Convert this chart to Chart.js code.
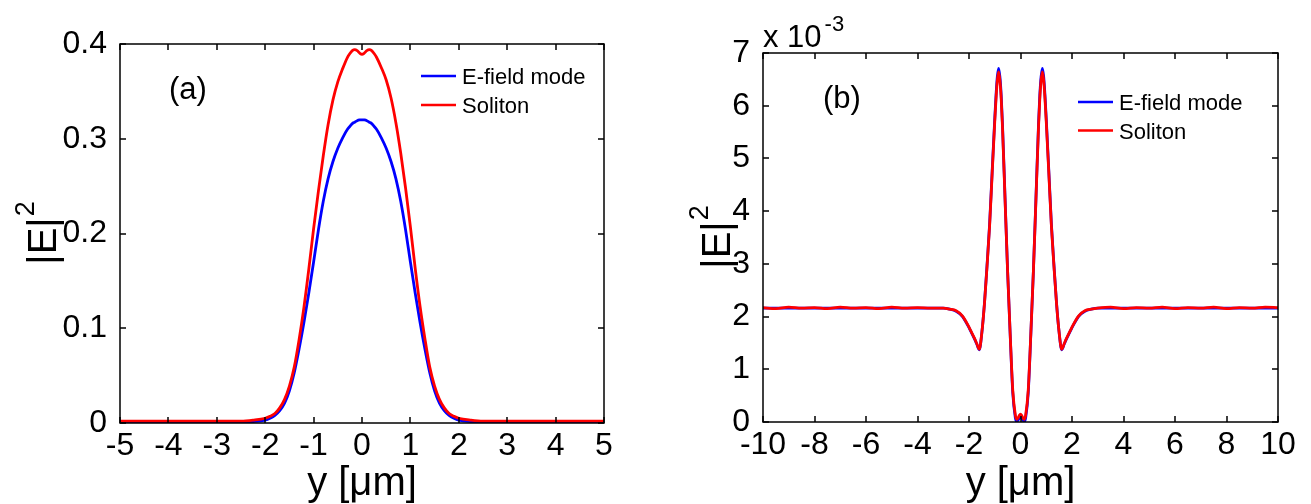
<!DOCTYPE html>
<html>
<head>
<meta charset="utf-8">
<script src="https://cdn.jsdelivr.net/npm/chart.js@4.4.1/dist/chart.umd.min.js"></script>
<style>
  body { margin: 0; background: #fff; }
  .figure { position: relative; width: 1311px; height: 504px; overflow: hidden; }
  .panel { position: absolute; top: 0; }
</style>
</head>
<body>
<div class="figure">
  <div class="panel" style="left:0"><canvas id="chartA" width="650" height="504"></canvas></div>
  <div class="panel" style="left:650px"><canvas id="chartB" width="661" height="504"></canvas></div>
</div>
<script>
// (a) transverse position y [um] and |E|^2
const posA = [
  -5, -4.5, -4, -3.5, -3, -2.5, -2.25,
  -2, -1.9, -1.8, -1.7, -1.6, -1.5, -1.4, -1.3, -1.2, -1.1, -1, -0.9, -0.8, -0.7, -0.6, -0.5, -0.4, -0.3,
  -0.25, -0.2, -0.15, -0.1, -0.05, 0, 0.05, 0.1, 0.15, 0.2, 0.25,
  0.3, 0.4, 0.5, 0.6, 0.7, 0.8, 0.9, 1, 1.1, 1.2, 1.3, 1.4, 1.5, 1.6, 1.7, 1.8, 1.9, 2,
  2.25, 2.5, 3, 3.5, 4, 4.5, 5
]
const fieldA = [
  0.0005, 0.0005, 0.0005, 0.0005, 0.0006, 0.001, 0.0015,
  0.003, 0.005, 0.008, 0.013, 0.021, 0.034, 0.053, 0.078, 0.106, 0.137, 0.17, 0.204, 0.234, 0.258, 0.276, 0.29, 0.301, 0.31,
  0.313, 0.316, 0.3175, 0.319, 0.3198, 0.32, 0.3198, 0.319, 0.3175, 0.316, 0.313,
  0.31, 0.301, 0.29, 0.276, 0.258, 0.234, 0.204, 0.17, 0.137, 0.106, 0.078, 0.053, 0.034, 0.021, 0.013, 0.008, 0.005, 0.003,
  0.0015, 0.001, 0.0006, 0.0005, 0.0005, 0.0005, 0.0005
]
const solitonA = [
  0.002, 0.002, 0.002, 0.002, 0.002, 0.002, 0.003,
  0.005, 0.007, 0.01, 0.016, 0.025, 0.039, 0.059, 0.088, 0.122, 0.162, 0.205, 0.245, 0.282, 0.315, 0.341, 0.36, 0.374, 0.386,
  0.39, 0.393, 0.394, 0.393, 0.3905, 0.389, 0.3905, 0.393, 0.394, 0.393, 0.39,
  0.386, 0.375, 0.362, 0.343, 0.317, 0.285, 0.248, 0.207, 0.163, 0.123, 0.089, 0.059, 0.039, 0.025, 0.016, 0.01, 0.007, 0.005,
  0.003, 0.002, 0.002, 0.002, 0.002, 0.002, 0.002
]
const ticksXA = [-5, 5, 1]
const ticksYA = [0, 0.4, 0.1]

// (b) |E|^2 in units of 1e-3
const posB = [
  -10, -9.5, -9, -8.5, -8, -7.5, -7, -6.5, -6, -5.5, -5, -4.5, -4, -3.5, -3,
  -2.75, -2.5, -2.25, -2, -1.9, -1.8, -1.7, -1.6, -1.5, -1.4, -1.3, -1.2, -1.1,
  -1, -0.95, -0.9, -0.85, -0.8, -0.75, -0.7, -0.6, -0.5, -0.4, -0.3, -0.2, -0.15, -0.1, -0.05,
  0,
  0.05, 0.1, 0.15, 0.2, 0.3, 0.4, 0.5, 0.6, 0.7, 0.75, 0.8, 0.85, 0.9, 0.95, 1,
  1.1, 1.2, 1.3, 1.4, 1.5, 1.6, 1.7, 1.8, 1.9, 2, 2.25, 2.5, 2.75,
  3, 3.5, 4, 4.5, 5, 5.5, 6, 6.5, 7, 7.5, 8, 8.5, 9, 9.5, 10
]
const fieldB = [
  2.16, 2.16, 2.16, 2.16, 2.16, 2.16, 2.16, 2.16, 2.16, 2.16, 2.16, 2.16, 2.16, 2.16, 2.16,
  2.14, 2.1, 2, 1.79, 1.69, 1.59, 1.48, 1.37, 1.7, 2.25, 2.97, 3.75, 4.76,
  5.75, 6.2, 6.55, 6.71, 6.55, 6.2, 5.65, 4.25, 2.85, 1.65, 0.55, 0.08, 0.005, 0.03, 0.07,
  0.09,
  0.07, 0.03, 0.005, 0.08, 0.55, 1.65, 2.85, 4.25, 5.65, 6.2, 6.55, 6.71, 6.55, 6.2, 5.75,
  4.76, 3.75, 2.97, 2.25, 1.7, 1.37, 1.48, 1.59, 1.69, 1.79, 2, 2.1, 2.14,
  2.16, 2.16, 2.16, 2.16, 2.16, 2.16, 2.16, 2.16, 2.16, 2.16, 2.16, 2.16, 2.16, 2.16, 2.16
]
const solitonB = [
  2.17, 2.15, 2.18, 2.16, 2.17, 2.15, 2.18, 2.16, 2.17, 2.15, 2.18, 2.16, 2.17, 2.16, 2.16,
  2.14, 2.11, 2.01, 1.8, 1.7, 1.6, 1.49, 1.38, 1.7, 2.24, 2.95, 3.72, 4.72,
  5.7, 6.14, 6.48, 6.64, 6.48, 6.14, 5.6, 4.22, 2.85, 1.66, 0.6, 0.13, 0.05, 0.07, 0.12,
  0.15,
  0.12, 0.07, 0.05, 0.13, 0.6, 1.66, 2.85, 4.22, 5.6, 6.14, 6.48, 6.64, 6.48, 6.14, 5.7,
  4.72, 3.72, 2.95, 2.24, 1.7, 1.38, 1.49, 1.6, 1.7, 1.8, 2.01, 2.11, 2.14,
  2.16, 2.18, 2.15, 2.17, 2.16, 2.18, 2.15, 2.17, 2.16, 2.18, 2.15, 2.17, 2.16, 2.18, 2.17
]
const ticksXB = [-10, 10, 2]
const ticksYB = [0, 7, 1]

const seriesNames = ['E-field mode', 'Soliton']
const seriesColors = ['#0000ff', '#ff0000']

const FONT = '"Liberation Sans", Arial, Helvetica, sans-serif'

const toPoints = (xs, ys) => xs.map((x, i) => ({ x, y: ys[i] }))

// box + inward tick marks on all four sides, matlab style
const frameTicks = {
  id: 'frameTicks',
  afterDatasetsDraw (chart) {
    const { ctx, chartArea: a, scales: { x, y } } = chart
    const len = 6
    ctx.save()
    ctx.strokeStyle = '#000'
    ctx.lineWidth = 1.5
    ctx.beginPath()
    x.ticks.forEach(t => {
      const px = Math.round(x.getPixelForValue(t.value))
      ctx.moveTo(px, a.bottom)
      ctx.lineTo(px, a.bottom - len)
      ctx.moveTo(px, a.top)
      ctx.lineTo(px, a.top + len)
    })
    y.ticks.forEach(t => {
      const py = Math.round(y.getPixelForValue(t.value))
      ctx.moveTo(a.left, py)
      ctx.lineTo(a.left + len, py)
      ctx.moveTo(a.right, py)
      ctx.lineTo(a.right - len, py)
    })
    ctx.stroke()
    ctx.strokeRect(a.left, a.top, a.width, a.height)
    ctx.restore()
  }
}

// axis titles, panel tag, legend and exponent
const annotations = {
  id: 'annotations',
  afterDraw (chart, args, o) {
    const { ctx, chartArea: a } = chart
    ctx.save()
    ctx.fillStyle = '#000'
    ctx.textBaseline = 'alphabetic'

    // x title
    ctx.font = `40px ${FONT}`
    ctx.textAlign = 'center'
    ctx.fillText('y [\u03bcm]', (a.left + a.right) / 2, 495)

    // y title |E|^2, rotated
    ctx.translate(o.yTitleX, (a.top + a.bottom) / 2)
    ctx.rotate(-Math.PI / 2)
    ctx.textAlign = 'left'
    ctx.font = `40px ${FONT}`
    const w1 = ctx.measureText('|E|').width
    ctx.font = `27px ${FONT}`
    const w2 = ctx.measureText('2').width
    const x0 = -(w1 + w2) / 2
    ctx.font = `40px ${FONT}`
    ctx.fillText('|E|', x0, 0)
    ctx.font = `27px ${FONT}`
    ctx.fillText('2', x0 + w1 + 1, -22)
    ctx.setTransform(1, 0, 0, 1, 0, 0)

    // panel tag
    ctx.font = `31px ${FONT}`
    ctx.fillText(o.tag, o.tagX, o.tagY)

    // legend
    ctx.font = `22px ${FONT}`
    seriesNames.forEach((name, i) => {
      const ly = o.legendY + i * o.legendGap
      ctx.strokeStyle = seriesColors[i]
      ctx.lineWidth = 2.5
      ctx.beginPath()
      ctx.moveTo(o.legendX, ly)
      ctx.lineTo(o.legendX + 35, ly)
      ctx.stroke()
      ctx.fillText(name, o.legendX + 41, ly + 8)
    })

    // axis multiplier
    if (o.exponent) {
      ctx.font = `31px ${FONT}`
      ctx.fillText('x 10', a.left, 47)
      const w = ctx.measureText('x 10').width
      ctx.font = `22px ${FONT}`
      ctx.fillText(o.exponent, a.left + w + 3, 31)
    }
    ctx.restore()
  }
}

const makeChart = (id, xs, blue, red, tx, ty, box, notes) => {
  const ctx = document.getElementById(id).getContext('2d')
  const tickFont = { family: FONT, size: 32 }
  const data = {
    datasets: [
      {
        label: seriesNames[0],
        data: toPoints(xs, blue),
        borderColor: seriesColors[0],
        borderWidth: 2.8,
        pointRadius: 0,
        cubicInterpolationMode: 'monotone',
        order: 1
      },
      {
        label: seriesNames[1],
        data: toPoints(xs, red),
        borderColor: seriesColors[1],
        borderWidth: 2.8,
        pointRadius: 0,
        cubicInterpolationMode: 'monotone',
        order: 0
      }
    ]
  }
  const config = {
    type: 'line',
    data: data,
    options: {
      responsive: false,
      animation: false,
      devicePixelRatio: 1,
      layout: {
        padding: { top: box.top, right: box.right, left: 0, bottom: 0 }
      },
      plugins: {
        legend: { display: false },
        tooltip: { enabled: false },
        annotations: notes
      },
      scales: {
        x: {
          type: 'linear',
          min: tx[0],
          max: tx[1],
          grid: { display: false },
          border: { display: false },
          ticks: {
            stepSize: tx[2],
            autoSkip: false,
            maxRotation: 0,
            color: '#000',
            font: tickFont,
            padding: -4
          },
          afterFit: scale => { scale.height = box.bottomAxis }
        },
        y: {
          type: 'linear',
          min: ty[0],
          max: ty[1],
          grid: { display: false },
          border: { display: false },
          ticks: {
            stepSize: ty[2],
            color: '#000',
            font: tickFont,
            padding: 5
          },
          afterFit: scale => { scale.width = box.leftAxis }
        }
      }
    },
    plugins: [frameTicks, annotations]
  }
  return new Chart(ctx, config)
}

makeChart('chartA', posA, fieldA, solitonA, ticksXA, ticksYA,
  { top: 44, right: 46, leftAxis: 120, bottomAxis: 81 },
  { yTitleX: 56, tag: '(a)', tagX: 169, tagY: 99, legendX: 421, legendY: 76, legendGap: 29 })

makeChart('chartB', posB, fieldB, solitonB, ticksXB, ticksYB,
  { top: 53, right: 33, leftAxis: 113, bottomAxis: 82 },
  { yTitleX: 80, tag: '(b)', tagX: 173, tagY: 108, legendX: 428, legendY: 102, legendGap: 28.5, exponent: '-3' })
</script>
</body>
</html>
